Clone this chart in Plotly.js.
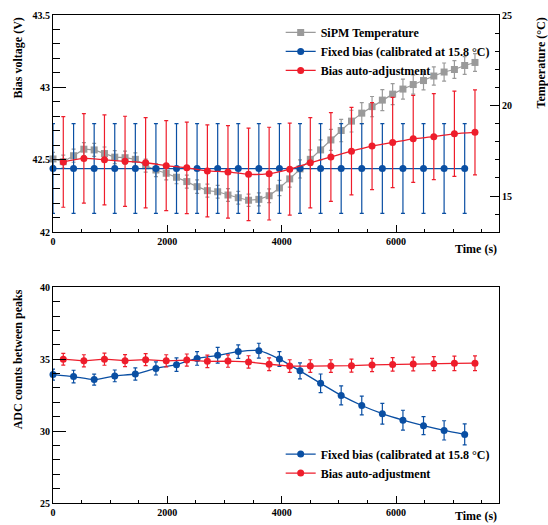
<!DOCTYPE html>
<html>
<head>
<meta charset="utf-8">
<script src="https://cdn.plot.ly/plotly-3.0.1.min.js"></script>
<style>html,body{margin:0;padding:0;background:#fff;}#chart{width:548px;height:525px;}</style>
</head>
<body>
<div id="chart"></div>
<script>
// ---- data ----
const timeFixed = [0,360,720,1080,1440,1800,2160,2520,2880,3240,3600,3960,4320,4680,5040,5400,5760,6120,6480,6840,7200];
const timeAuto = [180,540,900,1260,1620,1980,2340,2700,3060,3420,3780,4140,4500,4860,5220,5580,5940,6300,6660,7020,7380];
const timeTemp = [0,180,360,540,720,900,1080,1260,1440,1620,1800,1980,2160,2340,2520,2700,2880,3060,3240,3420,3600,3780,3960,4140,4320,4500,4680,4860,5040,5220,5400,5580,5760,5940,6120,6300,6480,6660,6840,7020,7200,7380];

const tempSiPM = [17.05,16.90,17.23,17.59,17.55,17.35,17.15,17.12,17.03,16.68,16.44,16.26,16.04,15.80,15.52,15.30,15.24,15.06,14.91,14.77,14.82,15.02,15.45,15.95,16.50,17.03,17.55,18.10,18.62,19.14,19.58,19.94,20.30,20.63,20.91,21.16,21.38,21.63,21.85,21.99,22.21,22.38];
const tempErr = [0.36,0.36,0.36,0.36,0.36,0.36,0.36,0.36,0.36,0.36,0.36,0.36,0.36,0.36,0.37,0.36,0.35,0.35,0.35,0.34,0.36,0.38,0.42,0.45,0.50,0.52,0.55,0.58,0.62,0.60,0.58,0.56,0.58,0.58,0.55,0.53,0.52,0.50,0.50,0.49,0.49,0.49];

const biasFixed = [42.44,42.44,42.44,42.44,42.44,42.44,42.44,42.44,42.44,42.44,42.44,42.44,42.44,42.44,42.44,42.44,42.44,42.44,42.44,42.44,42.44];
const biasFixedErr = [0.31,0.31,0.31,0.31,0.31,0.31,0.31,0.31,0.31,0.31,0.31,0.31,0.31,0.31,0.31,0.31,0.31,0.31,0.31,0.31,0.31];
const biasAuto = [42.486,42.51,42.50,42.49,42.48,42.46,42.445,42.424,42.417,42.40,42.405,42.436,42.48,42.52,42.56,42.595,42.62,42.645,42.66,42.68,42.69];
const biasAutoErr = [0.313,0.309,0.311,0.311,0.312,0.311,0.316,0.317,0.319,0.319,0.32,0.317,0.311,0.306,0.302,0.30,0.311,0.30,0.297,0.294,0.293];

const adcFixed = [33.93,33.79,33.58,33.84,33.97,34.36,34.62,35.05,35.27,35.53,35.59,35.01,34.19,33.32,32.48,31.78,31.21,30.76,30.38,30.05,29.77];
const adcFixedErr = [0.38,0.44,0.38,0.41,0.43,0.46,0.47,0.47,0.55,0.47,0.52,0.51,0.56,0.65,0.66,0.65,0.72,0.69,0.63,0.67,0.73];
const adcAuto = [35.0,34.89,35.0,34.9,34.97,34.89,34.94,34.85,34.87,34.81,34.65,34.52,34.52,34.52,34.55,34.6,34.64,34.67,34.69,34.71,34.72];
const adcAutoErr = [0.41,0.42,0.42,0.42,0.42,0.42,0.42,0.43,0.43,0.43,0.44,0.44,0.44,0.44,0.45,0.46,0.47,0.48,0.49,0.5,0.51];

const names = ['SiPM Temperature','Fixed bias (calibrated at 15.8 °C)','Bias auto-adjustment'];

// ---- styles ----
const BLUE = '#0a4fa3', RED = '#ee1d2b', GRAY = '#9a9a9a';
const FONT = 'Liberation Serif, Times New Roman, serif';
const tickFont = {family: FONT, size: 10, weight: 'bold', color: '#000'};

function errs(arr, color) {
  return {type: 'data', array: arr, visible: true, color: color, thickness: 1.2, width: 2};
}

const traces = [
  {x: timeTemp, y: tempSiPM, xaxis: 'x', yaxis: 'y', name: names[0], mode: 'lines+markers',
   line: {color: GRAY, width: 1.2}, marker: {symbol: 'square', size: 7, color: GRAY},
   error_y: errs(tempErr, GRAY), cliponaxis: false, legend: 'legend'},
  {x: timeFixed, y: biasFixed, xaxis: 'x', yaxis: 'y2', name: names[1], mode: 'lines+markers',
   line: {color: BLUE, width: 1.3}, marker: {symbol: 'circle', size: 7, color: BLUE},
   error_y: errs(biasFixedErr, BLUE), cliponaxis: false, legend: 'legend'},
  {x: timeAuto, y: biasAuto, xaxis: 'x', yaxis: 'y2', name: names[2], mode: 'lines+markers',
   line: {color: RED, width: 1.3, shape: 'spline', smoothing: 0.6}, marker: {symbol: 'circle', size: 7, color: RED},
   error_y: errs(biasAutoErr, RED), cliponaxis: false, legend: 'legend'},
  {x: timeFixed, y: adcFixed, xaxis: 'x2', yaxis: 'y3', name: names[1], mode: 'lines+markers',
   line: {color: BLUE, width: 1.3, shape: 'spline', smoothing: 0.6}, marker: {symbol: 'circle', size: 7, color: BLUE},
   error_y: errs(adcFixedErr, BLUE), cliponaxis: false, legend: 'legend2'},
  {x: timeAuto, y: adcAuto, xaxis: 'x2', yaxis: 'y3', name: names[2], mode: 'lines+markers',
   line: {color: RED, width: 1.3}, marker: {symbol: 'circle', size: 7, color: RED},
   error_y: errs(adcAutoErr, RED), cliponaxis: false, legend: 'legend2'}
];

const xCommon = {
  range: [0, 7800], dtick: 2000, tick0: 0, tickformat: 'd',
  ticks: 'inside', ticklen: 7, tickwidth: 1, tickcolor: '#000',
  minor: {dtick: 500, ticks: 'inside', ticklen: 3.5, tickcolor: '#000', showgrid: false},
  showline: true, linecolor: '#000', linewidth: 1, mirror: true,
  showgrid: false, zeroline: false, tickfont: tickFont, ticklabelstandoff: 0
};

const legendCommon = {
  xanchor: 'left', yanchor: 'top', bgcolor: 'rgba(0,0,0,0)', borderwidth: 0,
  font: {family: FONT, size: 12, weight: 'bold', color: '#000'}, tracegroupgap: 0
};

const titleFont = {family: FONT, size: 12, weight: 'bold', color: '#000'};

const layout = {
  width: 548, height: 525,
  margin: {l: 53, r: 49, t: 15, b: 22, pad: 0},
  paper_bgcolor: '#fff', plot_bgcolor: '#fff',
  showlegend: true,
  xaxis: Object.assign({}, xCommon, {domain: [0, 1], anchor: 'y'}),
  yaxis: {domain: [0.5547, 1], anchor: 'x', side: 'right', range: [13, 25], dtick: 5, tick0: 0,
    ticks: 'inside', ticklen: 9, tickcolor: '#000',
    minor: {dtick: 1, ticks: 'inside', ticklen: 4.5, tickcolor: '#000', showgrid: false},
    showline: true, linecolor: '#000', linewidth: 1, showgrid: false, zeroline: false, tickfont: tickFont},
  yaxis2: {overlaying: 'y', anchor: 'x', side: 'left', range: [42, 43.5], dtick: 0.5, tick0: 42,
    ticks: 'inside', ticklen: 13, tickcolor: '#000',
    minor: {dtick: 0.1, ticks: 'inside', ticklen: 6.5, tickcolor: '#000', showgrid: false},
    showline: true, linecolor: '#000', linewidth: 1, showgrid: false, zeroline: false, tickfont: tickFont},
  xaxis2: Object.assign({}, xCommon, {domain: [0, 1], anchor: 'y3'}),
  yaxis3: {domain: [0, 0.442], anchor: 'x2', range: [25, 40], dtick: 5, tick0: 0,
    ticks: 'inside', ticklen: 13, tickcolor: '#000',
    minor: {dtick: 1, ticks: 'inside', ticklen: 6.5, tickcolor: '#000', showgrid: false},
    showline: true, linecolor: '#000', linewidth: 1, mirror: true, showgrid: false, zeroline: false, tickfont: tickFont},
  legend: Object.assign({}, legendCommon, {x: 0.5105, y: 0.994}),
  legend2: Object.assign({}, legendCommon, {x: 0.5105, y: 0.13}),
  annotations: [
    {text: 'Bias voltage (V)', xref: 'paper', yref: 'paper', x: -0.0785, y: 1.0, xanchor: 'center', yanchor: 'top', textangle: -90, showarrow: false, font: titleFont},
    {text: 'Temperature (°C)', xref: 'paper', yref: 'paper', x: 1.094, y: 1.0, xanchor: 'center', yanchor: 'top', textangle: -90, showarrow: false, font: titleFont},
    {text: 'ADC counts between peaks', xref: 'paper', yref: 'paper', x: -0.0785, y: 0.442, xanchor: 'center', yanchor: 'top', textangle: -90, showarrow: false, font: titleFont},
    {text: 'Time (s)', xref: 'paper', yref: 'paper', x: 1.0, y: 0.5205, xanchor: 'right', yanchor: 'middle', showarrow: false, font: titleFont},
    {text: 'Time (s)', xref: 'paper', yref: 'paper', x: 1.0, y: -0.0275, xanchor: 'right', yanchor: 'middle', showarrow: false, font: titleFont}
  ]
};

Plotly.newPlot('chart', traces, layout, {staticPlot: true, displayModeBar: false});
</script>
</body>
</html>
